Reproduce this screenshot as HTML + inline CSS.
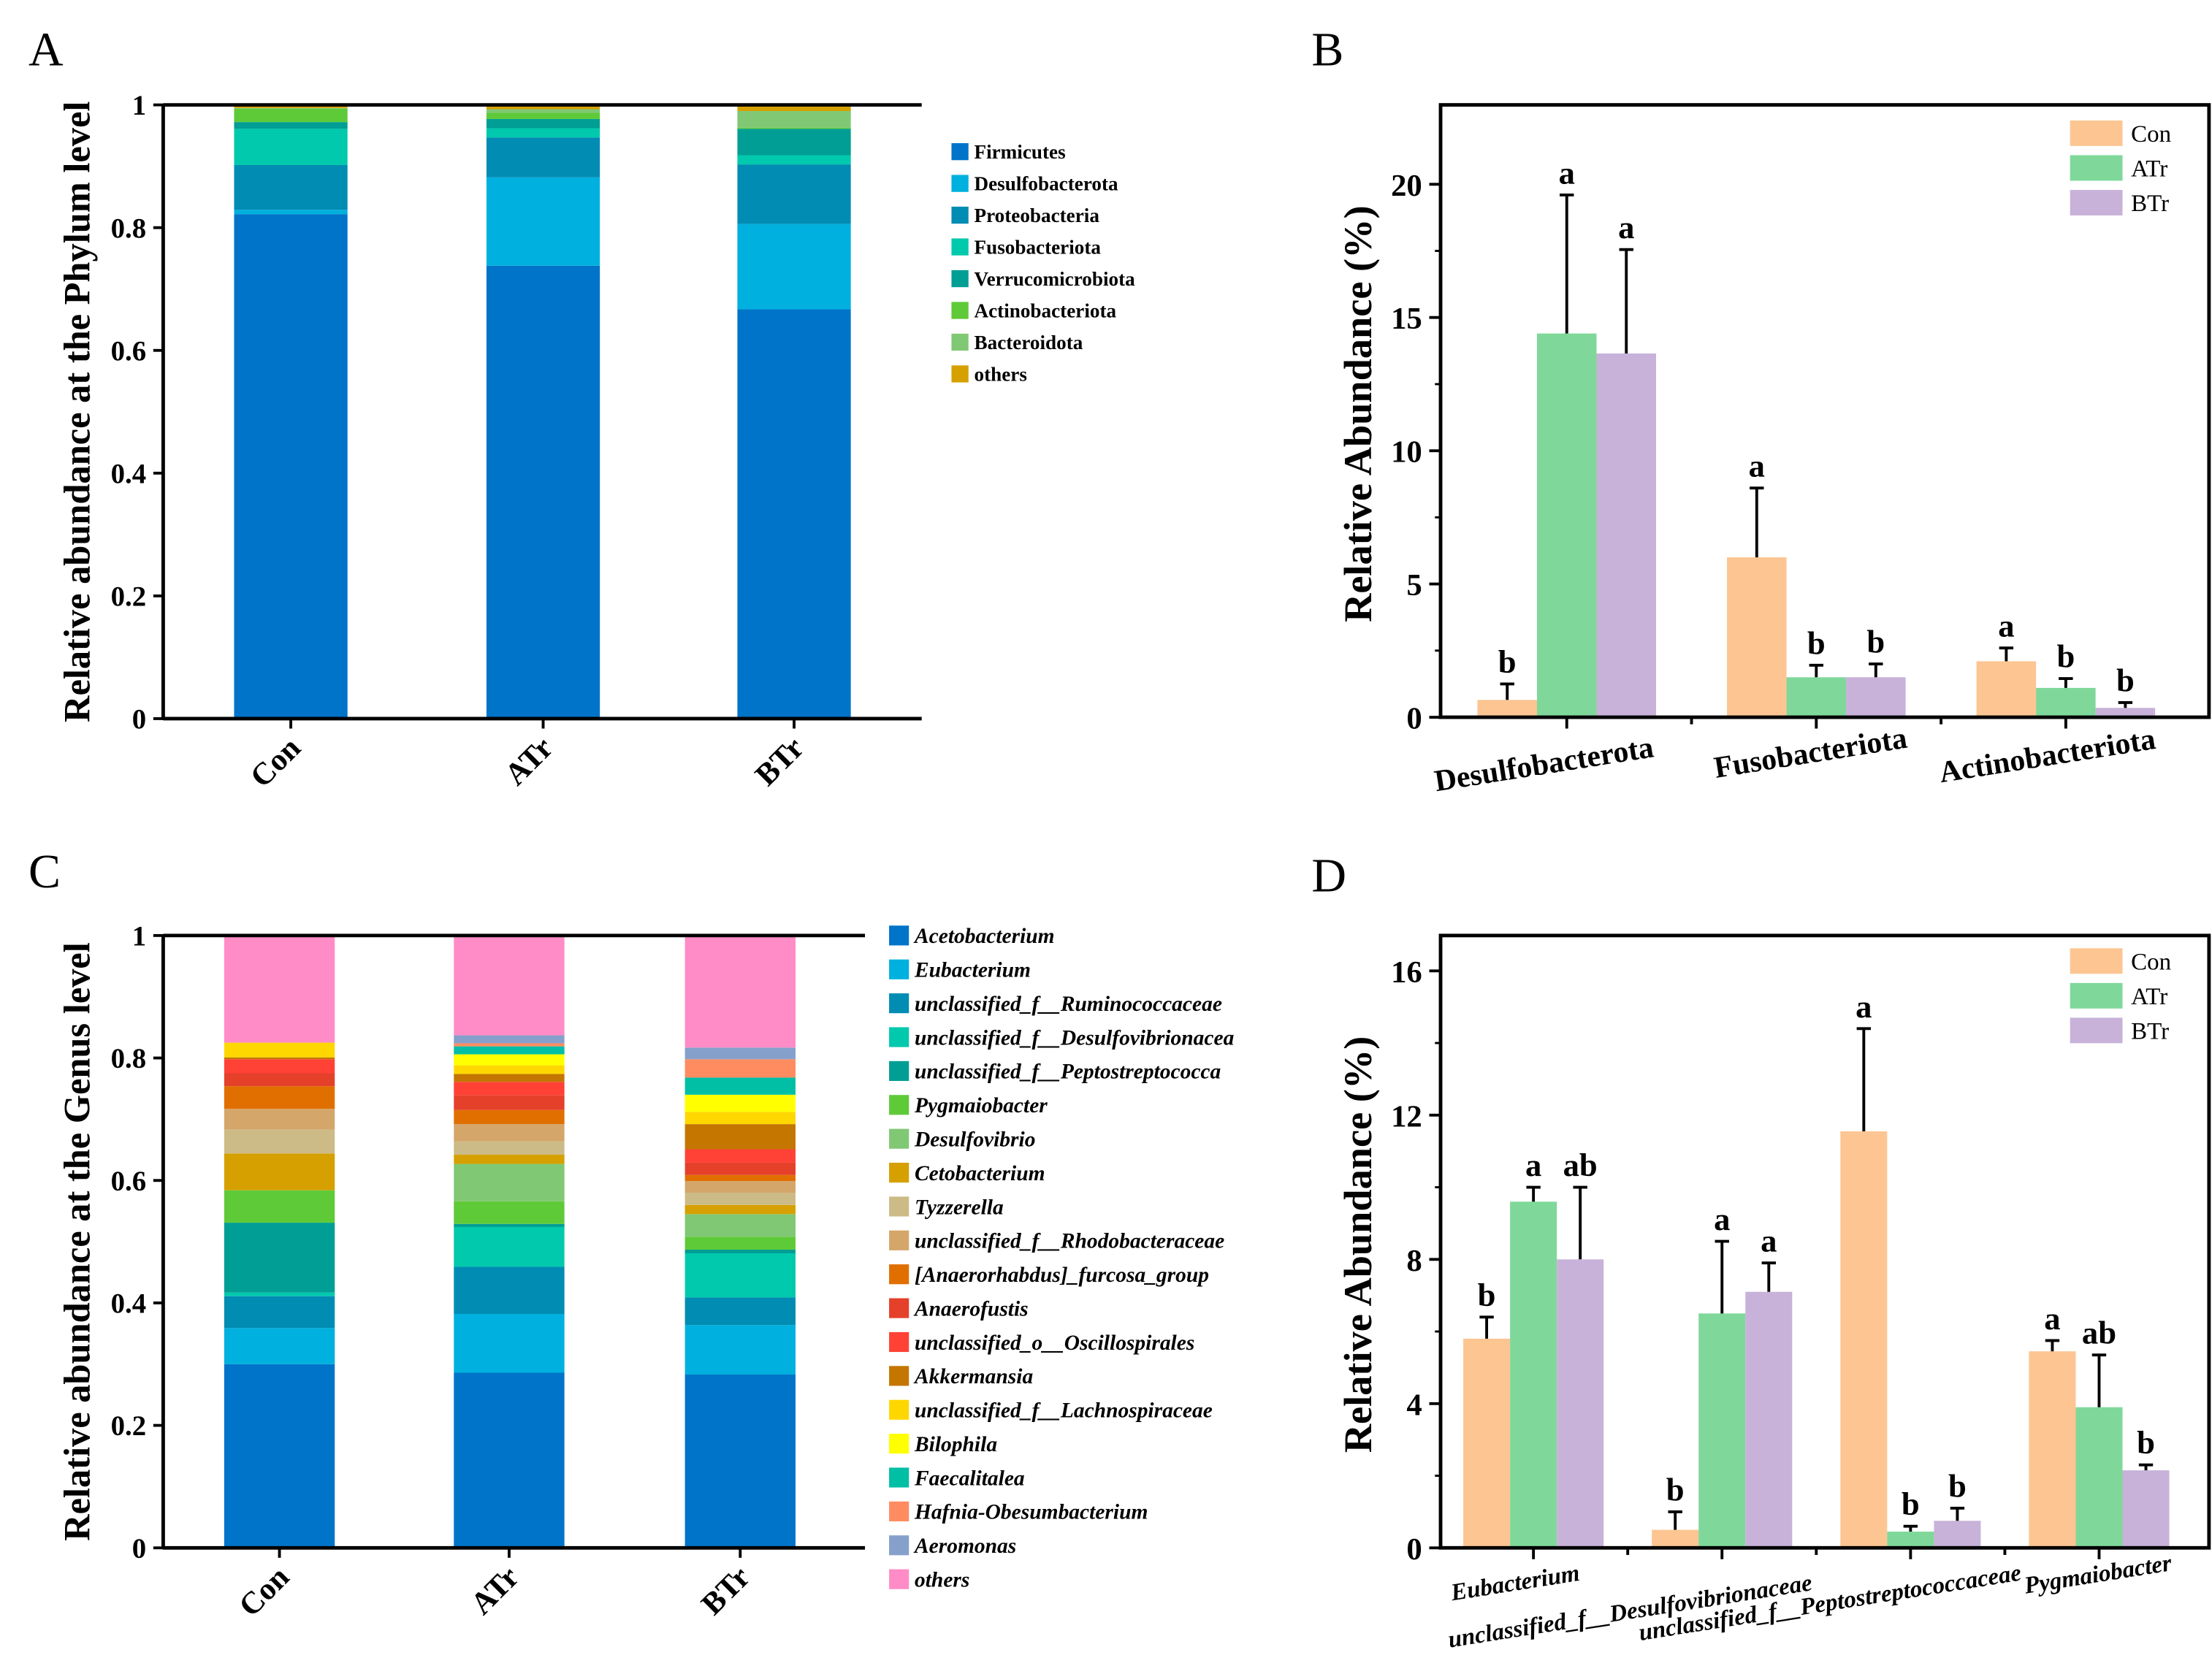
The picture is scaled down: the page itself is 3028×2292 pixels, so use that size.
<!DOCTYPE html>
<html><head><meta charset="utf-8"><style>
html,body{margin:0;padding:0;background:#fff;}
svg{display:block;font-family:"Liberation Serif","DejaVu Serif",serif;}
</style></head><body>
<svg id="fig" width="3028" height="2292" viewBox="0 0 1560 1181" xmlns="http://www.w3.org/2000/svg"></svg>
<script>
// ---------- DATA ----------
const groups = ["Con","ATr","BTr"];
const phyla = ["Firmicutes","Desulfobacterota","Proteobacteria","Fusobacteriota","Verrucomicrobiota","Actinobacteriota","Bacteroidota","others"];
const phylaCon = [0.822,0.007,0.073,0.059,0.011,0.022,0.001,0.005];
const phylaATr = [0.738,0.144,0.065,0.015,0.015,0.010,0.006,0.007];
const phylaBTr = [0.667,0.139,0.097,0.015,0.043,0.002,0.027,0.010];
const phylaColors = ["#0074c9","#00b0de","#008cb3","#00c9ad","#009e94","#5fca38","#80c874","#d6a000"];
const genusLegend = ["Acetobacterium","Eubacterium","unclassified_f__Ruminococcaceae","unclassified_f__Desulfovibrionacea","unclassified_f__Peptostreptococca","Pygmaiobacter","Desulfovibrio","Cetobacterium","Tyzzerella","unclassified_f__Rhodobacteraceae","[Anaerorhabdus]_furcosa_group","Anaerofustis","unclassified_o__Oscillospirales","Akkermansia","unclassified_f__Lachnospiraceae","Bilophila","Faecalitalea","Hafnia-Obesumbacterium","Aeromonas","others"];
const genusCon = [0.300,0.059,0.052,0.006,0.114,0.053,0.000,0.060,0.039,0.034,0.037,0.021,0.023,0.003,0.024,0,0,0,0,0.175];
const genusATr = [0.286,0.096,0.077,0.065,0.005,0.037,0.061,0.015,0.022,0.028,0.023,0.024,0.022,0.013,0.014,0.018,0.013,0.005,0.013,0.163];
const genusBTr = [0.283,0.081,0.045,0.072,0.006,0.021,0.037,0.015,0.020,0.019,0.010,0.020,0.022,0.041,0.020,0.028,0.028,0.030,0.019,0.181];
const genusColors = ["#0074c9","#00b0de","#008cb3","#00c9ad","#009e94","#5fca38","#80c874","#d6a000","#cdbb87","#d4a66a","#e06f00","#e5402a","#ff4136","#c47600","#ffd700","#ffff00","#00bfa5","#ff8c60","#86a0cc","#ff8cc6"];
const phylaB = ["Desulfobacterota","Fusobacteriota","Actinobacteriota"];
const bCon = [0.65,6.0,2.1];  const bConErr = [0.6,2.6,0.5];
const bATr = [14.4,1.5,1.1];  const bATrErr = [5.2,0.45,0.35];
const bBTr = [13.65,1.5,0.35]; const bBTrErr = [3.9,0.5,0.2];
const bLetters = [["b","a","a"],["a","b","b"],["a","b","b"]];
const bTicks = [0,5,10,15,20];
const generaD = ["Eubacterium","unclassified_f__Desulfovibrionaceae","unclassified_f__Peptostreptococcaceae","Pygmaiobacter"];
const dCon = [5.8,0.5,11.55,5.45]; const dConErr = [0.6,0.5,2.85,0.3];
const dATr = [9.6,6.5,0.45,3.9];  const dATrErr = [0.4,2.0,0.15,1.45];
const dBTr = [8.0,7.1,0.75,2.15]; const dBTrErr = [2.0,0.8,0.35,0.15];
const dLetters = [["b","a","ab"],["b","a","a"],["a","b","b"],["a","ab","b"]];
const dTicks = [0,4,8,12,16];
const stackTicks = [0,0.2,0.4,0.6,0.8,1];
const stackTickLabels = ["0","0.2","0.4","0.6","0.8","1"];
const grpColors = ["#fcc592","#7fd89a","#c8b2d9"];

// ---------- helpers ----------
const NS="http://www.w3.org/2000/svg";
const svg=document.getElementById('fig');
function mk(tag,attrs,parent){const e=document.createElementNS(NS,tag);for(const k in attrs)e.setAttribute(k,attrs[k]);(parent||svg).appendChild(e);return e;}
function txt(s,attrs,parent){const e=mk('text',attrs,parent);e.textContent=s;return e;}

[["A",20,46],["B",925,46],["C",20,626],["D",925,629]].forEach(p=>{
  const t=txt(p[0],{x:p[1],y:p[2],'font-size':34},svg);
  
  
});

function stacked(cfg){
  const g=mk('g',{});
  
  
  const y=v=>cfg.y0-(cfg.y0-cfg.y1)*v;
  cfg.series.forEach((vals,gi)=>{
    let acc=0;
    vals.forEach((v,i)=>{
      if(v<=0)return;
      const r=mk('rect',{x:cfg.bx[gi],y:y(acc+v),width:cfg.bw,height:y(acc)-y(acc+v),fill:cfg.colors[i]},g);
      
      
      acc+=v;
    });
    const cx=cfg.bx[gi]+cfg.bw/2;
    mk('line',{x1:cx,x2:cx,y1:cfg.y0,y2:cfg.y0+7,stroke:'#000','stroke-width':2},g);
    const t=txt(groups[gi],{x:0,y:0,'font-size':22,'font-weight':'bold','text-anchor':'end',transform:`translate(${cx+8},${cfg.y0+22}) rotate(-45)`},g);
    
    
  });
  mk('line',{x1:cfg.x0,x2:cfg.x1,y1:cfg.y1,y2:cfg.y1,stroke:'#000','stroke-width':2.5},g);
  mk('line',{x1:cfg.x0,x2:cfg.x1,y1:cfg.y0,y2:cfg.y0,stroke:'#000','stroke-width':2.5},g);
  mk('line',{x1:cfg.x0,x2:cfg.x0,y1:cfg.y1,y2:cfg.y0+1,stroke:'#000','stroke-width':2.5},g);
  stackTicks.forEach((t,i)=>{
    mk('line',{x1:cfg.x0-7,x2:cfg.x0,y1:y(t),y2:y(t),stroke:'#000','stroke-width':2},g);
    const l=txt(stackTickLabels[i],{x:cfg.x0-12,y:y(t)+7,'font-size':20,'font-weight':'bold','text-anchor':'end'},g);
    
    
  });
  const yt=txt(cfg.ytitle,{x:0,y:0,'font-size':26,'font-weight':'bold','text-anchor':'middle',transform:`translate(${cfg.ytx},${(cfg.y0+cfg.y1)/2}) rotate(-90)`},g);
  
  
  const lg=mk('g',{},g);
  
  
  cfg.legend.forEach((n,i)=>{
    const yy=cfg.ly+i*cfg.lstep;
    const e=mk('g',{},lg);
    
    
    mk('rect',{x:cfg.lx,y:yy-cfg.lsq/2,width:cfg.lsq,height:cfg.lsq,fill:cfg.colors[i]},e);
    txt(n,{x:cfg.lx+cfg.lsq+4,y:yy+cfg.lfs*0.35,'font-size':cfg.lfs,'font-weight':'bold','font-style':cfg.italic?'italic':'normal'},e);
  });
}
stacked({name:'chart-a-phylum',x0:115,x1:650,y0:507,y1:74,bx:[165,343,520],bw:80,series:[phylaCon,phylaATr,phylaBTr],colors:phylaColors,ytitle:'Relative abundance at the Phylum level',ytx:63,legend:phyla,lx:671,ly:107,lstep:22.4,lsq:12,lfs:14,italic:false});
stacked({name:'chart-c-genus',x0:115,x1:610,y0:1092,y1:660,bx:[158,320,483],bw:78,series:[genusCon,genusATr,genusBTr],colors:genusColors,ytitle:'Relative abundance at the Genus level',ytx:63,legend:genusLegend,lx:627,ly:660,lstep:23.9,lsq:14,lfs:15.2,italic:true});

function grouped(cfg){
  const g=mk('g',{});
  
  
  const y=v=>cfg.y0-v*cfg.k;
  const n=cfg.cats.length, gw=(cfg.gx1-cfg.gx0)/n;
  const vals=[cfg.con,cfg.atr,cfg.btr], errs=[cfg.conE,cfg.atrE,cfg.btrE];
  cfg.cats.forEach((c,ci)=>{
    const cx=cfg.gx0+gw*(ci+0.5);
    for(let s=0;s<3;s++){
      const bx=cx+(s-1.5)*cfg.bw;
      const v=vals[s][ci], e=errs[s][ci];
      const r=mk('rect',{x:bx,y:y(v),width:cfg.bw,height:y(0)-y(v),fill:grpColors[s]},g);
      
      
      const mx=bx+cfg.bw/2;
      mk('line',{x1:mx,x2:mx,y1:y(v),y2:y(v+e),stroke:'#000','stroke-width':2},g);
      mk('line',{x1:mx-5,x2:mx+5,y1:y(v+e),y2:y(v+e),stroke:'#000','stroke-width':2},g);
      const l=txt(cfg.letters[ci][s],{x:mx,y:y(v+e)-8,'font-size':23,'font-weight':'bold','text-anchor':'middle'},g);
      
      
    }
    mk('line',{x1:cx,x2:cx,y1:cfg.y0,y2:cfg.y0+8,stroke:'#000','stroke-width':2},g);
    if(ci>0) mk('line',{x1:cfg.gx0+gw*ci,x2:cfg.gx0+gw*ci,y1:cfg.y0,y2:cfg.y0+5,stroke:'#000','stroke-width':2},g);
    const t=txt(c,{x:0,y:0,'font-size':cfg.xfs,'font-weight':'bold','font-style':cfg.italic?'italic':'normal','text-anchor':'middle',transform:`translate(${cx+cfg.xoff[ci]},${cfg.y0+cfg.xdy[ci]}) rotate(-9)`},g);
    
    
  });
  mk('rect',{x:cfg.x0,y:cfg.y1,width:cfg.x1-cfg.x0,height:cfg.y0-cfg.y1,fill:'none',stroke:'#000','stroke-width':2.5},g);
  cfg.ticks.forEach((t,i)=>{
    mk('line',{x1:cfg.x0-8,x2:cfg.x0,y1:y(t),y2:y(t),stroke:'#000','stroke-width':2},g);
    if(i<cfg.ticks.length-1) mk('line',{x1:cfg.x0-4,x2:cfg.x0,y1:y((t+cfg.ticks[i+1])/2),y2:y((t+cfg.ticks[i+1])/2),stroke:'#000','stroke-width':1.5},g);
    const l=txt(String(t),{x:cfg.x0-13,y:y(t)+8,'font-size':22,'font-weight':'bold','text-anchor':'end'},g);
    
    
  });
  const yt=txt('Relative Abundance (%)',{x:0,y:0,'font-size':28,'font-weight':'bold','text-anchor':'middle',transform:`translate(967,${(cfg.y0+cfg.y1)/2+2}) rotate(-90)`},g);
  
  
  const lg=mk('g',{},g);
  
  
  groups.forEach((n,i)=>{
    const e=mk('g',{},lg);
    
    
    mk('rect',{x:cfg.lx,y:cfg.ly+i*24.5,width:37,height:18,fill:grpColors[i]},e);
    txt(n,{x:cfg.lx+43,y:cfg.ly+i*24.5+15,'font-size':17},e);
  });
}
grouped({name:'chart-b-phylum-abundance',x0:1016,x1:1558,gx0:1017,gx1:1545,y0:506,y1:74,k:18.8,bw:42,cats:phylaB,con:bCon,atr:bATr,btr:bBTr,conE:bConErr,atrE:bATrErr,btrE:bBTrErr,letters:bLetters,ticks:bTicks,xfs:21.5,italic:false,xoff:[-15,-3,-12],xdy:[40,32,34],lx:1460,ly:85});
grouped({name:'chart-d-genus-abundance',x0:1016,x1:1558,gx0:1015,gx1:1547,y0:1092,y1:660,k:25.44,bw:33,cats:generaD,con:dCon,atr:dATr,btr:dBTr,conE:dConErr,atrE:dATrErr,btrE:dBTrErr,letters:dLetters,ticks:dTicks,xfs:17,italic:true,xoff:[-12,-64,-56,0],xdy:[30,50,44,24],lx:1460,ly:669});
</script>
</body></html>
